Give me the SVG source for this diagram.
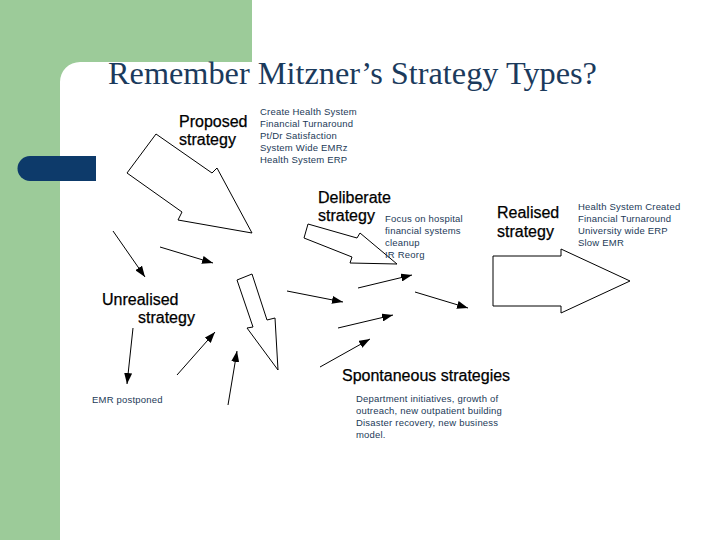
<svg xmlns="http://www.w3.org/2000/svg" width="720" height="540" viewBox="0 0 720 540">
<defs>
<style>
.lbl{font-family:"Liberation Sans",Arial,sans-serif;font-size:16px;fill:#000;stroke:#000;stroke-width:0.25px}
.note{font-family:"Liberation Sans",Arial,sans-serif;font-size:9.5px;letter-spacing:0.2px;fill:#1c3a58}
.shape{fill:none;stroke:#000;stroke-width:1}
.conn{fill:none;stroke:#000;stroke-width:1;marker-end:url(#ah)}
</style>
<marker id="ah" markerUnits="userSpaceOnUse" markerWidth="11" markerHeight="8" refX="11" refY="4" orient="auto">
<path d="M0,0 L11,4 L0,8 Z" fill="#000"/>
</marker>
</defs>
<rect x="0" y="0" width="720" height="540" fill="#fff"/>
<path d="M0,0 H252 V62 H80 A20,20 0 0 0 60,82 V540 H0 Z" fill="#9ccb99"/>
<path d="M30,156 H96 V181 H30 A12.5,12.5 0 0 1 30,156 Z" fill="#0d3a6a"/>
<g id="title">
<text x="108" y="84" font-family="'Liberation Serif','Times New Roman',serif" font-size="32.3" fill="#1b3a5c">Remember Mitzner’s Strategy Types?</text>
</g>
<g id="proposed">
<text class="lbl" x="179" y="127">Proposed</text>
<text class="lbl" x="179" y="145">strategy</text>
<polygon class="shape" points="156,134 212,173 217,168 252,233 178,220 182,212 127,173"/>
<text class="note" x="260" y="115">Create Health System</text>
<text class="note" x="260" y="127">Financial Turnaround</text>
<text class="note" x="260" y="139">Pt/Dr Satisfaction</text>
<text class="note" x="260" y="151">System Wide EMRz</text>
<text class="note" x="260" y="163">Health System ERP</text>
</g>
<g id="deliberate">
<text class="lbl" x="318" y="203">Deliberate</text>
<text class="lbl" x="318" y="221">strategy</text>
<polygon class="shape" points="308,224 357,238 360,233 397,264 350,263 352,257 304,238"/>
<text class="note" x="385" y="222">Focus on hospital</text>
<text class="note" x="385" y="234">financial systems</text>
<text class="note" x="385" y="246">cleanup</text>
<text class="note" x="385" y="258">IR Reorg</text>
</g>
<g id="realised">
<text class="lbl" x="497" y="218">Realised</text>
<text class="lbl" x="497" y="237">strategy</text>
<polygon class="shape" points="493,256 561,256 561,249 630,281 561,313 561,306 493,306"/>
<text class="note" x="578" y="210">Health System Created</text>
<text class="note" x="578" y="222">Financial Turnaround</text>
<text class="note" x="578" y="234">University wide ERP</text>
<text class="note" x="578" y="246">Slow EMR</text>
</g>
<g id="unrealised">
<text class="lbl" x="102" y="305">Unrealised</text>
<text class="lbl" x="138" y="323">strategy</text>
<text class="note" x="92" y="403">EMR postponed</text>
</g>
<g id="spontaneous">
<polygon class="shape" points="237,280 252,274 267,320 275,318 278,370 247,328 253,327"/>
<text class="lbl" x="342" y="381">Spontaneous strategies</text>
<text class="note" x="356" y="402">Department initiatives, growth of</text>
<text class="note" x="356" y="414">outreach, new outpatient building</text>
<text class="note" x="356" y="426">Disaster recovery, new business</text>
<text class="note" x="356" y="438">model.</text>
</g>
<g id="connectors">
<line class="conn" x1="113" y1="231" x2="145" y2="277"/>
<line class="conn" x1="160" y1="247" x2="213" y2="263"/>
<line class="conn" x1="133" y1="328" x2="127" y2="384"/>
<line class="conn" x1="177" y1="375" x2="215" y2="332"/>
<line class="conn" x1="228" y1="405" x2="237" y2="351"/>
<line class="conn" x1="287" y1="291" x2="343" y2="302"/>
<line class="conn" x1="358" y1="288" x2="412" y2="275"/>
<line class="conn" x1="415" y1="292" x2="468" y2="308"/>
<line class="conn" x1="338" y1="328" x2="393" y2="315"/>
<line class="conn" x1="320" y1="367" x2="370" y2="339"/>
</g>
</svg>
